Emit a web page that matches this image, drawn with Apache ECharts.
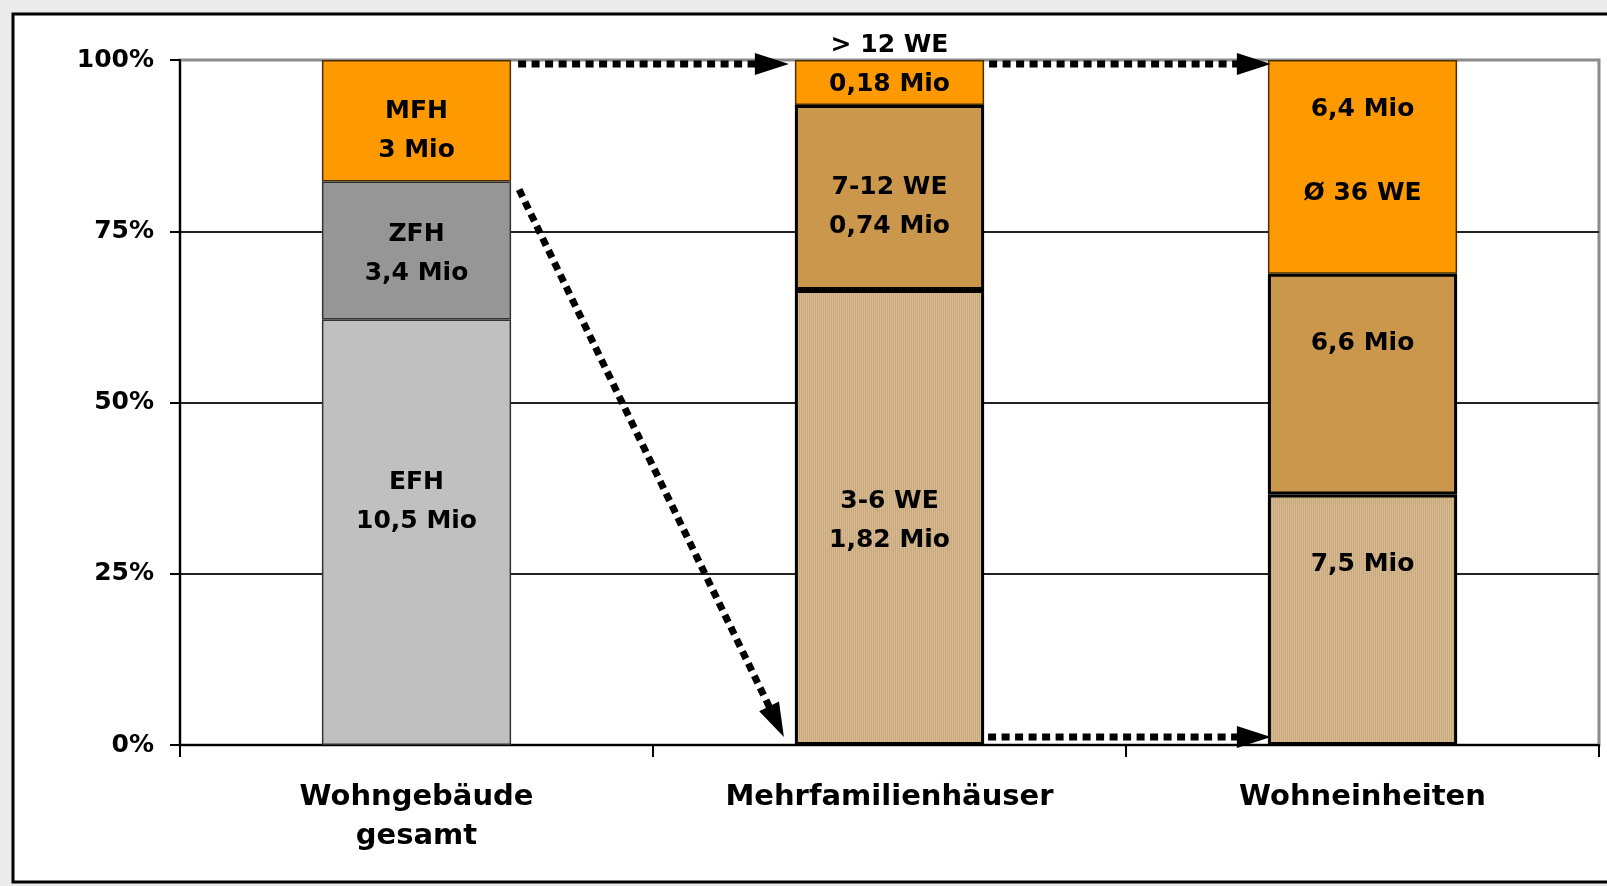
<!DOCTYPE html>
<html>
<head>
<meta charset="utf-8">
<script src="https://cdn.jsdelivr.net/npm/echarts@6/dist/echarts.min.js"></script>
<style>
  html, body { margin: 0; padding: 0; background: #ebebeb; }
  #chart { width: 1607px; height: 886px; }
</style>
</head>
<body>
<div id="chart"></div>
<script>
// Bestand an Wohngebäuden und Wohneinheiten (Anteile je Säule, Angaben in Mio)
const categories = ['Wohngebäude\ngesamt', 'Mehrfamilienhäuser', 'Wohneinheiten'];
const bottomMio = [10.5, 1.82, 7.5];
const middleMio = [3.4, 0.74, 6.6];
const topMio = [3, 0.18, 6.4];
const bottomNames = ['EFH', '3-6 WE', ''];
const middleNames = ['ZFH', '7-12 WE', ''];
const topNames = ['MFH', '> 12 WE', ''];
const topNotes = ['', '', 'Ø 36 WE'];
const yTickLabels = ['0%', '25%', '50%', '75%', '100%'];

const FONT = 'DejaVu Sans';

// fine vertical hatch used for the 3-6 WE segments
function makeHatch() {
  const c = document.createElement('canvas');
  c.width = 4; c.height = 4;
  const g = c.getContext('2d');
  g.fillStyle = '#d8ba91'; g.fillRect(0, 0, 4, 4);
  g.fillStyle = '#c8a97f'; g.fillRect(1, 0, 1, 4); g.fillRect(3, 0, 1, 4);
  return { image: c, repeat: 'repeat' };
}
const hatch = makeHatch();

const totals = categories.map((_, i) => bottomMio[i] + middleMio[i] + topMio[i]);
const pct = (arr) => arr.map((v, i) => v / totals[i] * 100);
const mio = (v) => String(v).replace('.', ',') + ' Mio';

const bottomStyles = [
  { color: '#c0c0c0', borderColor: '#333', borderWidth: 1.5 },
  { color: hatch, borderColor: '#000', borderWidth: 3 },
  { color: hatch, borderColor: '#000', borderWidth: 3 }
];
const middleStyles = [
  { color: '#969696', borderColor: '#333', borderWidth: 1.5 },
  { color: '#ca974c', borderColor: '#000', borderWidth: 3 },
  { color: '#ca974c', borderColor: '#000', borderWidth: 3 }
];
const topStyles = [
  { color: '#ff9900', borderColor: '#4a3000', borderWidth: 1.5 },
  { color: '#ff9900', borderColor: '#4a3000', borderWidth: 1.5 },
  { color: '#ff9900', borderColor: '#4a3000', borderWidth: 1.5 }
];
// vertical label shifts inside the segments
const bottomShift = [-30, 3, -55];
const middleShift = [3, 9, -41];
const topShift = [10, -18, -15];

function buildSeries(name, values, names, styles, shifts, notes) {
  const p = pct(values);
  return {
    name: name,
    type: 'bar',
    stack: 'total',
    barWidth: '40%',
    data: p.map((v, i) => {
      let lines;
      if (notes && notes[i]) lines = [mio(values[i]), '', notes[i]];
      else lines = names[i] ? [names[i], mio(values[i])] : [mio(values[i])];
      return {
        value: v,
        itemStyle: styles[i],
        label: {
          formatter: lines.join('\n'),
          offset: [0, shifts[i]],
          lineHeight: notes && notes[i] ? 42 : 39
        }
      };
    }),
    label: {
      show: true,
      position: 'inside',
      color: '#000',
      fontFamily: FONT,
      fontWeight: 'bold',
      fontSize: 25
    },
    emphasis: { disabled: true }
  };
}

const chart = echarts.init(document.getElementById('chart'), null, { renderer: 'canvas' });

chart.setOption({
  animation: false,
  backgroundColor: '#ebebeb',
  grid: {
    left: 180, right: 8, top: 60, bottom: 141,
    show: true, borderColor: '#8c8c8c', borderWidth: 3, backgroundColor: 'transparent'
  },
  xAxis: {
    type: 'category',
    data: categories,
    axisLine: { show: true, lineStyle: { color: '#000', width: 2 } },
    axisTick: { show: true, length: 12, interval: 0, lineStyle: { color: '#000', width: 2 } },
    axisLabel: {
      interval: 0, margin: 33, color: '#000',
      fontFamily: FONT, fontWeight: 'bold', fontSize: 29, lineHeight: 39
    },
    splitLine: { show: false }
  },
  yAxis: {
    type: 'value',
    min: 0, max: 100, interval: 25,
    axisLine: { show: true, lineStyle: { color: '#000', width: 2 } },
    axisTick: { show: true, length: 10, lineStyle: { color: '#000', width: 2 } },
    axisLabel: {
      margin: 26, color: '#000',
      fontFamily: FONT, fontWeight: 'bold', fontSize: 25,
      formatter: (v) => yTickLabels[Math.round(v / 25)]
    },
    splitLine: {
      show: true, showMinLine: false, showMaxLine: false,
      lineStyle: { color: '#222', width: 2 }
    }
  },
  series: [
    buildSeries('unten', bottomMio, bottomNames, bottomStyles, bottomShift),
    buildSeries('mitte', middleMio, middleNames, middleStyles, middleShift),
    buildSeries('oben', topMio, topNames, topStyles, topShift, topNotes)
  ]
});

// dotted arrows linking the columns
function arrow(x1, y1, x2, y2) {
  const dx = x2 - x1, dy = y2 - y1;
  const len = Math.hypot(dx, dy);
  const ux = dx / len, uy = dy / len;
  const head = 34, half = 11;
  const bx = x2 - ux * head, by = y2 - uy * head;
  return [
    {
      type: 'line', z: 50, silent: true,
      shape: { x1: x1, y1: y1, x2: bx + ux * 2, y2: by + uy * 2 },
      style: { stroke: '#000', lineWidth: 7, lineDash: [8, 5.5], lineCap: 'butt' }
    },
    {
      type: 'polygon', z: 50, silent: true,
      shape: { points: [[x2, y2], [bx - uy * half, by + ux * half], [bx + uy * half, by - ux * half]] },
      style: { fill: '#000' }
    }
  ];
}

function drawAnnotations() {
  const p0 = chart.convertToPixel({ gridIndex: 0 }, [0, 0]);
  const p1 = chart.convertToPixel({ gridIndex: 0 }, [1, 0]);
  const p2 = chart.convertToPixel({ gridIndex: 0 }, [2, 0]);
  const band = p1[0] - p0[0];
  const hw = band * 0.4 / 2;
  const yTop = chart.convertToPixel({ gridIndex: 0 }, [0, 100])[1];
  const yBottom = p0[1];
  const p = pct(bottomMio), q = pct(middleMio);
  const yMfhBase = chart.convertToPixel({ gridIndex: 0 }, [0, p[0] + q[0]])[1];
  const b1R = p0[0] + hw, b2L = p1[0] - hw, b2R = p1[0] + hw, b3L = p2[0] - hw;

  const els = [
    {
      type: 'rect', z: -100, silent: true,
      shape: { x: 13, y: 14, width: 1620, height: 868 },
      style: { fill: '#fff', stroke: '#000', lineWidth: 3 }
    }
  ].concat(
    arrow(b1R + 7, yTop + 4, b2L - 6, yTop + 4),
    arrow(b2R + 5, yTop + 4, b3L + 3, yTop + 4),
    arrow(b1R + 8, yMfhBase + 8, b2L - 11, yBottom - 8),
    arrow(b2R + 4, yBottom - 8, b3L + 3, yBottom - 8)
  );
  chart.setOption({ graphic: { elements: els } });
}
drawAnnotations();
</script>
</body>
</html>
